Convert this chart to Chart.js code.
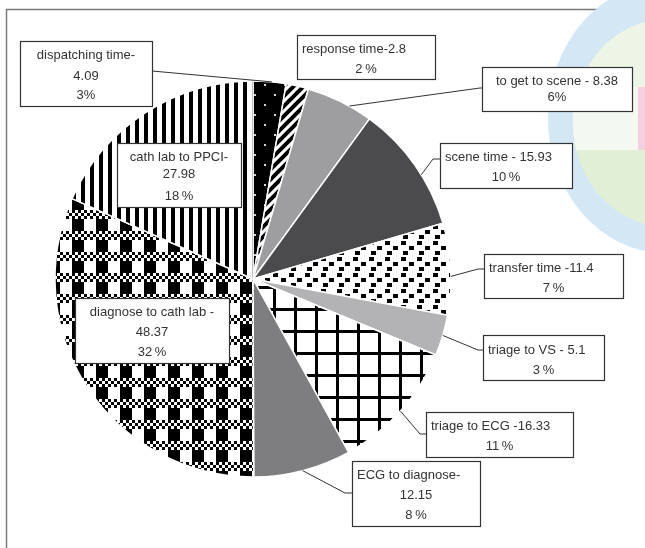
<!DOCTYPE html>
<html>
<head>
<meta charset="utf-8">
<script src="https://cdn.jsdelivr.net/npm/chart.js@4.4.1/dist/chart.umd.min.js"></script>
<style>
  html, body { margin: 0; padding: 0; background: #fff; }
  canvas { display: block; }
</style>
</head>
<body>
<canvas id="grafico" width="645" height="548"></canvas>
<script>
const categorias = ["dispatching time", "response time", "to get to scene", "scene time", "transfer time",
    "triage to VS", "triage to ECG", "ECG to diagnose", "diagnose to cath lab", "cath lab to PPCI"];
const tempos = [4.09, 2.8, 8.38, 15.93, 11.4, 5.1, 16.33, 12.15, 48.37, 27.98];
const percentuais = [3, 2, 6, 10, 7, 3, 11, 8, 32, 18];

// caixas dos rotulos (posicao, linhas, ponto da linha guia)
const caixas = [
    { x: 20, y: 41, w: 132, h: 65, linhas: ["{n}-", "{v}", "{p}"], yl: [14, 35, 54], esq: [], lado: "right", ly: 30, dx: 0, f: 0.57, gap: false },
    { x: 297, y: 35, w: 138, h: 44, linhas: ["{n}-{v}", "{p}"], yl: [14, 34], esq: [0], lado: null, gap: true },
    { x: 482, y: 67, w: 150, h: 44, linhas: ["{n} - {v}", "{p}"], yl: [14, 30], esq: [], lado: "left", ly: 21, dx: 2, f: 0.65, gap: false },
    { x: 440, y: 143, w: 132, h: 45, linhas: ["{n} - {v}", "{p}"], yl: [14, 34], esq: [0], lado: "left", ly: 16, dx: 7, f: 0.59, gap: true },
    { x: 484, y: 254, w: 139, h: 44, linhas: ["{n} -{v}", "{p}"], yl: [14, 34], esq: [0], lado: "left", ly: 15, dx: 6, f: 0.58, gap: true },
    { x: 483, y: 335, w: 121, h: 45, linhas: ["{n} - {v}", "{p}"], yl: [15, 35], esq: [0], lado: "left", ly: 15, dx: 5, f: 0.5, gap: true },
    { x: 426, y: 412, w: 147, h: 45, linhas: ["{n} -{v}", "{p}"], yl: [14, 34], esq: [0], lado: "left", ly: 22, dx: 6, f: 0.5, gap: true },
    { x: 352, y: 461, w: 128, h: 65, linhas: ["{n}-", "{v}", "{p}"], yl: [14, 34, 54], esq: [0], lado: "left", ly: 32, dx: 7, f: 0.5, gap: true },
    { x: 75, y: 298, w: 154, h: 65, linhas: ["{n} -", "{v}", "{p}"], yl: [14, 34, 54], esq: [], lado: null, gap: true },
    { x: 117, y: 143, w: 124, h: 64, linhas: ["{n}-", "{v}", "{p}"], yl: [14, 31, 53], esq: [], lado: null, gap: true },
];

function tile(w, h, desenha) {
    const c = document.createElement("canvas");
    c.width = w;
    c.height = h;
    const g = c.getContext("2d");
    desenha(g);
    return document.getElementById("grafico").getContext("2d").createPattern(c, "repeat");
}

const pontos = tile(20, 20, g => {
    g.fillStyle = "#000";
    g.fillRect(0, 0, 20, 20);
    g.fillStyle = "#d8d8d8";
    g.fillRect(4, 4, 2, 2);
    g.fillRect(14, 14, 2, 2);
});

const diagonal = tile(10, 10, g => {
    g.fillStyle = "#fff";
    g.fillRect(0, 0, 10, 10);
    g.strokeStyle = "#000";
    g.lineWidth = 4;
    g.beginPath();
    g.moveTo(-5, 5); g.lineTo(5, -5);
    g.moveTo(0, 10); g.lineTo(10, 0);
    g.moveTo(5, 15); g.lineTo(15, 5);
    g.stroke();
});

const confete = tile(16, 16, g => {
    g.fillStyle = "#fff";
    g.fillRect(0, 0, 16, 16);
    g.fillStyle = "#000";
    g.fillRect(1, 1, 5, 4);
    g.fillRect(9, 6, 5, 4);
    g.fillRect(3, 11, 5, 4);
});

const grade = tile(21, 22, g => {
    g.fillStyle = "#fff";
    g.fillRect(0, 0, 21, 22);
    g.fillStyle = "#000";
    g.fillRect(0, 0, 3, 22);
    g.fillRect(0, 0, 21, 3);
});

const xadrez = tile(24, 21, g => {
    g.fillStyle = "#fff";
    g.fillRect(0, 0, 24, 21);
    g.fillStyle = "#000";
    for (let r = 0; r < 3; r++) {
        for (let c = 0; c < 8; c++) {
            if ((r + c) % 2 === 0) g.fillRect(c * 3, r * 3, 3, 3);
        }
    }
    g.fillRect(0, 9, 12, 12);
});

const listras = tile(9, 4, g => {
    g.fillStyle = "#fff";
    g.fillRect(0, 0, 9, 4);
    g.fillStyle = "#000";
    g.fillRect(0, 0, 4, 4);
});

const fundos = [pontos, diagonal, "#9e9ea0", "#4b4b4d", confete, "#b3b3b5", grade, "#7e7e80", xadrez, listras];

const moldura = {
    id: "moldura",
    beforeDraw(chart) {
        const ctx = chart.ctx;
        ctx.save();
        ctx.fillStyle = "#fff";
        ctx.fillRect(0, 0, chart.width, chart.height);
        ctx.strokeStyle = "#7a7a7a";
        ctx.lineWidth = 1.5;
        ctx.beginPath();
        ctx.moveTo(6.5, 548);
        ctx.lineTo(6.5, 9.5);
        ctx.lineTo(645, 9.5);
        ctx.stroke();

        // mancha colorida no canto
        ctx.beginPath();
        ctx.ellipse(665, 118, 117, 135, 0, 0, Math.PI * 2);
        ctx.fillStyle = "#d3e7f5";
        ctx.fill();
        ctx.beginPath();
        ctx.ellipse(667, 123, 94, 104, 0, 0, Math.PI * 2);
        ctx.fillStyle = "#e0efd6";
        ctx.fill();
        ctx.clip();
        ctx.fillStyle = "#ecf5e6";
        ctx.fillRect(560, 0, 100, 150);
        ctx.fillStyle = "#f3f8f0";
        ctx.fillRect(560, 87, 100, 63);
        ctx.fillStyle = "#f4d0df";
        ctx.fillRect(638, 87, 10, 63);
        ctx.restore();
    }
};

const rotulos = {
    id: "rotulos",
    afterDraw(chart) {
        const ctx = chart.ctx;
        const meta = chart.getDatasetMeta(0);
        ctx.save();
        ctx.font = "13px 'Liberation Sans', Arial, sans-serif";
        ctx.textBaseline = "middle";

        caixas.forEach((cx, i) => {
            const arco = meta.data[i];
            if (cx.lado) {
                const ang = arco.startAngle + (arco.endAngle - arco.startAngle) * cx.f;
                const ax = arco.x + Math.cos(ang) * arco.outerRadius;
                const ay = arco.y + Math.sin(ang) * arco.outerRadius;
                const bx = cx.lado === "left" ? cx.x : cx.x + cx.w;
                const by = cx.y + cx.ly;
                const ex = cx.lado === "left" ? bx - cx.dx : bx + cx.dx;
                ctx.strokeStyle = "#333";
                ctx.lineWidth = 1;
                ctx.beginPath();
                ctx.moveTo(bx, by);
                ctx.lineTo(ex, by);
                ctx.lineTo(ax, ay);
                ctx.stroke();
            }

            ctx.fillStyle = "#fff";
            ctx.fillRect(cx.x, cx.y, cx.w, cx.h);
            ctx.strokeStyle = "#333";
            ctx.lineWidth = 1.2;
            ctx.strokeRect(cx.x + 0.5, cx.y + 0.5, cx.w, cx.h);

            const pct = percentuais[i] + (cx.gap ? "\u2009%" : "%");
            ctx.fillStyle = "#333";
            cx.linhas.forEach((modelo, k) => {
                const texto = modelo
                    .replace("{n}", categorias[i])
                    .replace("{v}", String(tempos[i]))
                    .replace("{p}", pct);
                if (cx.esq.includes(k)) {
                    ctx.textAlign = "left";
                    ctx.fillText(texto, cx.x + 5, cx.y + cx.yl[k]);
                } else {
                    ctx.textAlign = "center";
                    ctx.fillText(texto, cx.x + cx.w / 2, cx.y + cx.yl[k]);
                }
            });
        });
        ctx.restore();
    }
};

new Chart(document.getElementById("grafico"), {
    type: "pie",
    data: {
        labels: categorias,
        datasets: [{
            data: tempos,
            backgroundColor: fundos,
            borderColor: "#fff",
            borderWidth: 1.5,
        }],
    },
    options: {
        responsive: false,
        animation: false,
        radius: 198,
        layout: { padding: { left: 20, right: 159, top: 20, bottom: 10 } },
        plugins: {
            legend: { display: false },
            tooltip: { enabled: false },
        },
    },
    plugins: [moldura, rotulos],
});
</script>
</body>
</html>
